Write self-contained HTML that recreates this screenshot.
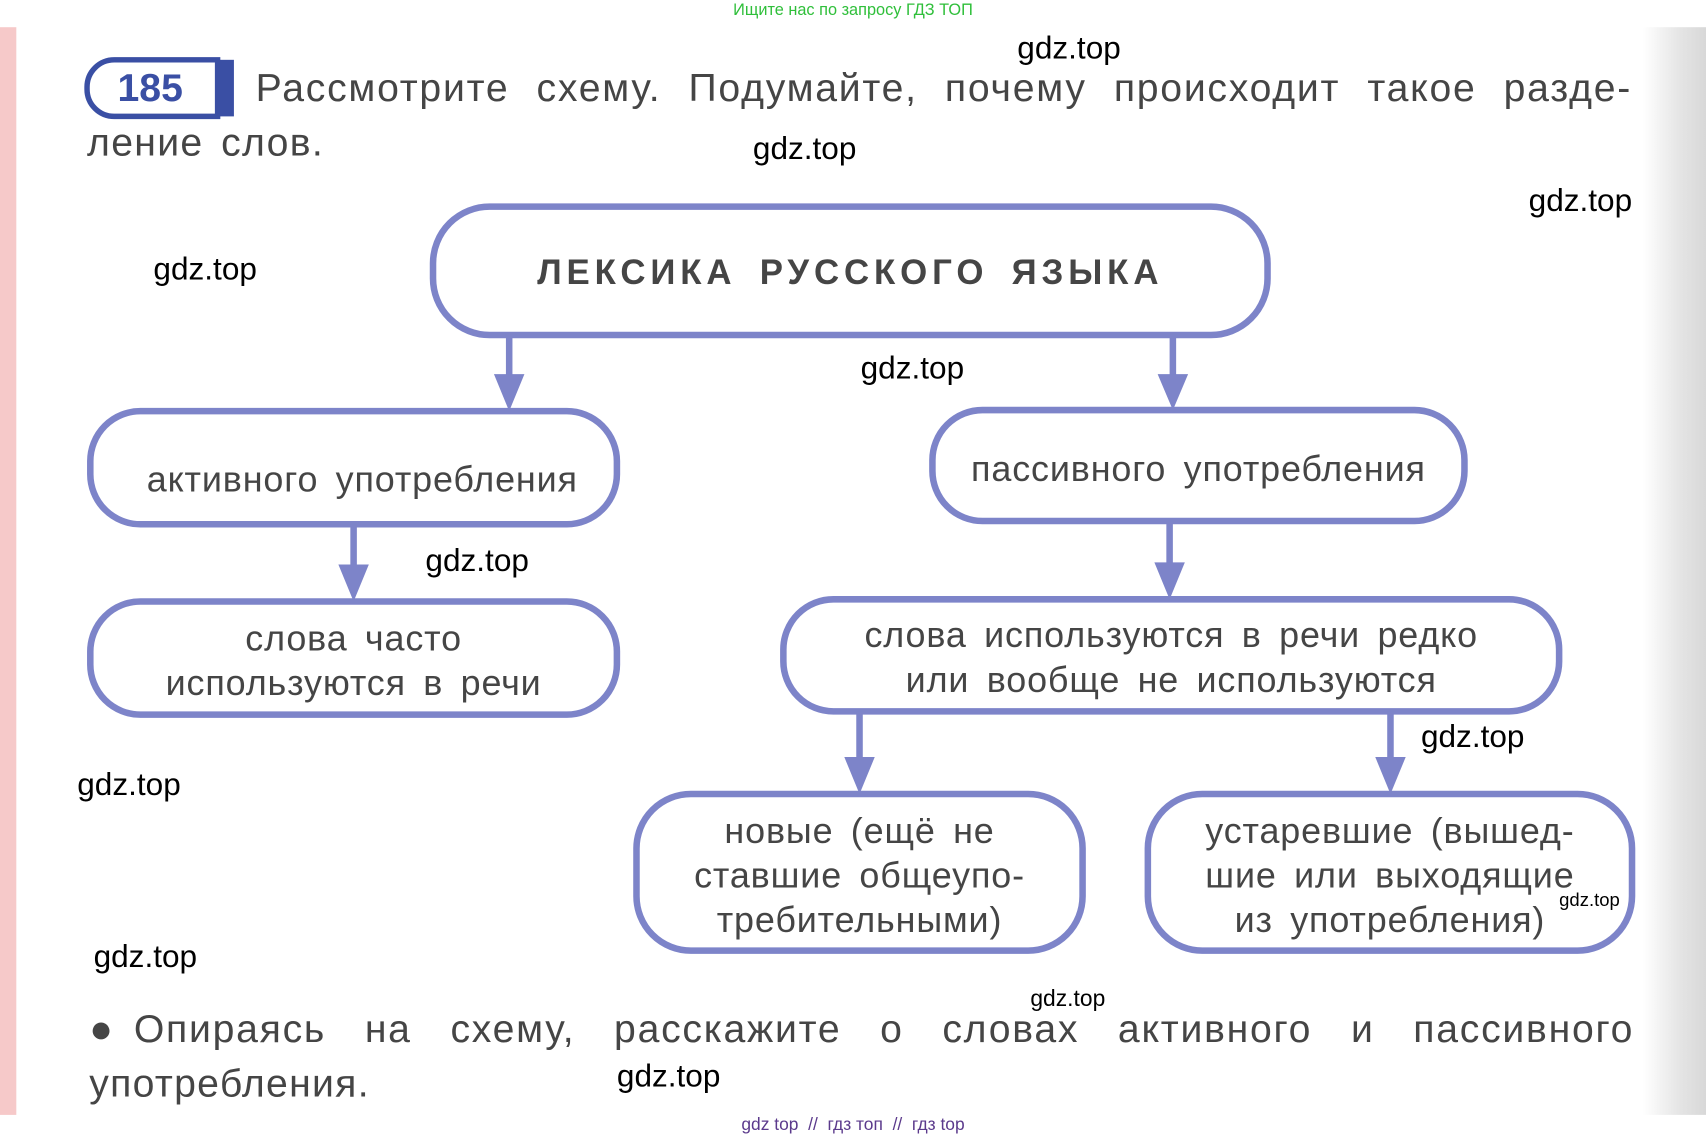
<!DOCTYPE html>
<html><head><meta charset="utf-8"><style>
html,body{margin:0;padding:0;background:#fff;overflow:hidden}
#wrap{width:1568px;height:1049px;transform:scale(1.08801,1.08770);transform-origin:0 0;position:relative;font-family:"Liberation Sans",sans-serif}
.t{position:absolute;white-space:nowrap;color:#454545}
.j{position:absolute;color:#454545;text-align:justify;text-align-last:justify;white-space:normal;letter-spacing:1.6px}
.w{position:absolute;white-space:nowrap;color:#000;font-size:29px}
.c{position:absolute;text-align:center;color:#454545;font-size:33px;letter-spacing:0.8px;line-height:41px;word-spacing:6px}
</style></head><body><div id="wrap">
<div style="position:absolute;left:0;top:25px;width:15px;height:1000px;background:#f6c9c9"></div>
<div style="position:absolute;left:1510px;top:25px;width:58px;height:1000px;background:linear-gradient(90deg,#fff,#e4e4e4 60%,#d8d8d8)"></div>
<div style="position:absolute;left:0;top:0;width:1568px;text-align:center;color:#2fbf3a;font-size:15px;top:1px">Ищите нас по запросу ГДЗ ТОП</div>
<svg style="position:absolute;left:0;top:0" width="1568" height="1049">
<path d="M200,55 H105 A25,25 0 0 0 80,80 V82 A25,25 0 0 0 105,107 H200 Z" fill="none" stroke="#3a4fa4" stroke-width="5"/>
<rect x="200" y="55" width="15" height="52" fill="#3a4fa4"/>
<g fill="none" stroke="#7d84c9" stroke-width="6">
<rect x="398" y="190" width="767" height="118" rx="52"/>
<rect x="83" y="378" width="484" height="104" rx="46"/>
<rect x="857" y="377" width="489" height="102" rx="46"/>
<rect x="83" y="553" width="484" height="104" rx="46"/>
<rect x="720" y="551" width="713" height="103" rx="46"/>
<rect x="585" y="730" width="410" height="144" rx="50"/>
<rect x="1055" y="730" width="445" height="144" rx="50"/>
<path d="M468,308V350M1078,308V350M325,482V525M1075,479V523M790,654V702M1278,654V702"/>
</g>
<g fill="#7d84c9">
<path d="M454,344H482L468,378Z"/><path d="M1064,344H1092L1078,377Z"/><path d="M311,519H339L325,553Z"/>
<path d="M1061,517H1089L1075,551Z"/><path d="M776,696H804L790,730Z"/><path d="M1264,696H1292L1278,730Z"/>
</g>
</svg>
<div class="t" style="left:108px;top:60px;font-size:36px;font-weight:bold;color:#3a4fa4">185</div>
<div class="j" style="left:235px;top:60px;width:1265px;font-size:36px;height:44px">Рассмотрите схему. Подумайте, почему происходит такое разде-</div>
<div class="t" style="left:80px;top:110px;font-size:36px;letter-spacing:1.2px;word-spacing:5px">ление слов.</div>
<div class="c" style="left:398px;top:230px;width:767px;font-weight:bold;font-size:32px;letter-spacing:4.5px;word-spacing:8px">ЛЕКСИКА РУССКОГО ЯЗЫКА</div>
<div class="c" style="left:83px;top:420px;width:500px">активного употребления</div>
<div class="c" style="left:857px;top:410px;width:489px">пассивного употребления</div>
<div class="c" style="left:83px;top:566px;width:484px">слова часто<br>используются в речи</div>
<div class="c" style="left:720px;top:563px;width:713px">слова используются в речи редко<br>или вообще не используются</div>
<div class="c" style="left:585px;top:743px;width:410px">новые (ещё не<br>ставшие общеупо-<br>требительными)</div>
<div class="c" style="left:1055px;top:743px;width:445px">устаревшие (вышед-<br>шие или выходящие<br>из употребления)</div>
<div class="t" style="left:82px;top:925px;font-size:36px">●</div>
<div class="j" style="left:123px;top:925px;width:1379px;font-size:36px;height:44px">Опираясь на схему, расскажите о словах активного и пассивного</div>
<div class="t" style="left:82px;top:975px;font-size:36px;letter-spacing:1.2px">употребления.</div>
<div class="w" style="left:935px;top:29px">gdz.top</div>
<div class="w" style="left:692px;top:121px">gdz.top</div>
<div class="w" style="left:1405px;top:169px">gdz.top</div>
<div class="w" style="left:141px;top:232px">gdz.top</div>
<div class="w" style="left:791px;top:323px">gdz.top</div>
<div class="w" style="left:391px;top:500px">gdz.top</div>
<div class="w" style="left:1306px;top:662px">gdz.top</div>
<div class="w" style="left:71px;top:706px">gdz.top</div>
<div class="w" style="left:86px;top:864px">gdz.top</div>
<div class="w" style="left:947px;top:907px;font-size:21px">gdz.top</div>
<div class="w" style="left:567px;top:974px">gdz.top</div>
<div class="w" style="left:1433px;top:818px;font-size:17px">gdz.top</div>
<div style="position:absolute;left:0;width:1568px;top:1026px;text-align:center;color:#5b3a8c;font-size:16px">gdz top &nbsp;// &nbsp;гдз топ &nbsp;// &nbsp;гдз top</div>
</div></body></html>
